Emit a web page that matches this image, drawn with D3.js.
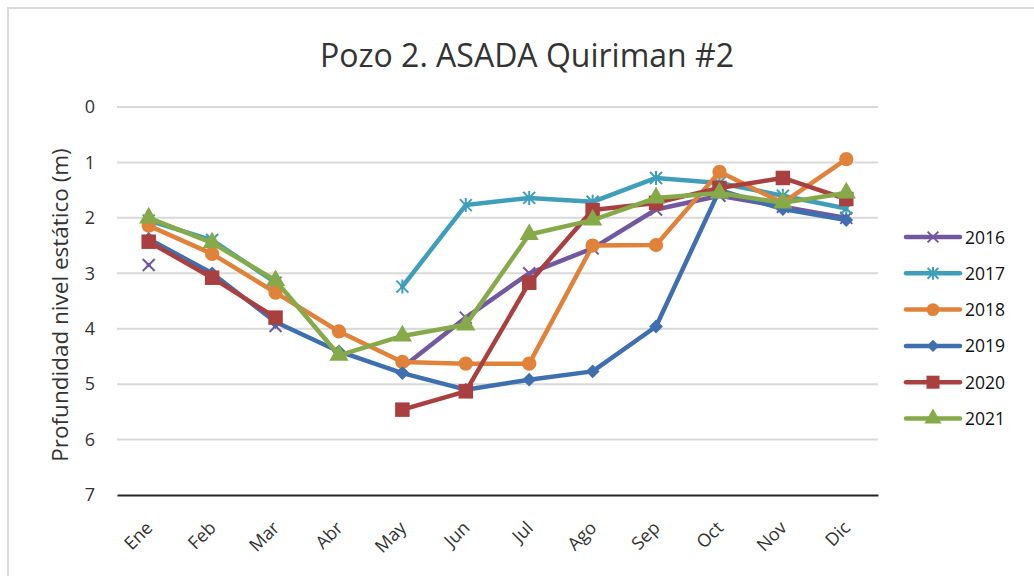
<!DOCTYPE html>
<html>
<head>
<meta charset="utf-8">
<script src="https://cdn.jsdelivr.net/npm/d3@7"></script>
<style>
  body { margin: 0; background: #fff; }
  svg { font-family: "Open Sans", "Noto Sans", sans-serif; }
</style>
</head>
<body>
<svg id="chart" width="1034" height="576"></svg>
<script>
const months = ["Ene", "Feb", "Mar", "Abr", "May", "Jun", "Jul", "Ago", "Sep", "Oct", "Nov", "Dic"];
const yTicks = [0, 1, 2, 3, 4, 5, 6, 7];

// profundidad (m) por mes, null = sin dato
const y2016 = [2.85, null, 3.95, null, 4.7, 3.8, 3.0, 2.55, 1.85, 1.6, 1.8, 2.0];
const y2017 = [2.05, 2.4, 3.17, null, 3.24, 1.77, 1.64, 1.71, 1.28, 1.37, 1.6, 1.83];
const y2018 = [2.14, 2.65, 3.35, 4.05, 4.6, 4.63, 4.63, 2.5, 2.49, 1.17, 1.73, 0.94];
const y2019 = [2.38, 3.0, 3.88, 4.41, 4.8, 5.1, 4.92, 4.77, 3.96, 1.5, 1.84, 2.04];
const y2020 = [2.43, 3.08, 3.8, null, 5.46, 5.13, 3.17, 1.86, 1.73, 1.46, 1.28, 1.66];
const y2021 = [2.0, 2.45, 3.13, 4.48, 4.13, 3.93, 2.3, 2.04, 1.64, 1.55, 1.73, 1.55];

const series = [
  { name: "2016", values: y2016, color: "#71589f", symbol: "x" },
  { name: "2017", values: y2017, color: "#3f9fba", symbol: "star" },
  { name: "2018", values: y2018, color: "#e0823a", symbol: "circle" },
  { name: "2019", values: y2019, color: "#3f6faf", symbol: "diamond" },
  { name: "2020", values: y2020, color: "#a9403f", symbol: "square" },
  { name: "2021", values: y2021, color: "#86a94a", symbol: "triangle" }
];

const svg = d3.select("#chart");

// chart border
svg.append("rect")
  .attr("x", 8).attr("y", 8)
  .attr("width", 1040).attr("height", 580)
  .attr("fill", "none")
  .attr("stroke", "#d9d9d9")
  .attr("stroke-width", 2);

const plot = { left: 117, right: 878, top: 107, bottom: 495 };

const x = d3.scaleBand()
  .domain(months)
  .range([plot.left, plot.right]);

const y = d3.scaleLinear()
  .domain([0, 7])
  .range([plot.top, plot.bottom]);

svg.append("text")
  .attr("x", 527).attr("y", 67)
  .attr("text-anchor", "middle")
  .attr("font-size", 32)
  .attr("fill", "#333")
  .text("Pozo 2. ASADA Quiriman #2");

// gridlines
svg.append("g")
  .selectAll("line")
  .data(yTicks.slice(0, -1))
  .join("line")
  .attr("x1", plot.left).attr("x2", plot.right)
  .attr("y1", d => y(d)).attr("y2", d => y(d))
  .attr("stroke", "#d9d9d9")
  .attr("stroke-width", 2);

const yAxis = svg.append("g")
  .attr("transform", `translate(${plot.left},0)`)
  .call(d3.axisLeft(y).tickValues(yTicks).tickFormat(d3.format("d")).tickSize(0).tickPadding(22));
yAxis.select(".domain").remove();
yAxis.selectAll("text")
  .attr("font-size", 18)
  .attr("fill", "#333")
  .attr("font-family", "Open Sans, sans-serif");

const xAxis = svg.append("g")
  .attr("transform", `translate(0,${plot.bottom})`)
  .call(d3.axisBottom(x).tickSize(0).tickPadding(0));
xAxis.select(".domain")
  .attr("stroke", "#262626")
  .attr("stroke-width", 2);
xAxis.selectAll("text")
  .attr("font-size", 18)
  .attr("fill", "#333")
  .attr("font-family", "Open Sans, sans-serif")
  .attr("text-anchor", "end")
  .attr("dy", 0)
  .attr("transform", "translate(5,34) rotate(-45)");

svg.append("text")
  .attr("transform", `translate(68,${(plot.top + plot.bottom) / 2 + 4}) rotate(-90)`)
  .attr("text-anchor", "middle")
  .attr("font-size", 22.5)
  .attr("fill", "#333")
  .text("Profundidad nivel estático (m)");

const line = d3.line()
  .defined(d => d != null)
  .x((d, i) => x(months[i]) + x.bandwidth() / 2)
  .y(d => y(d));

function drawSymbol(g, s, cx, cy, big) {
  const k = big ? 1 : 0.9;
  if (s.symbol === "x") {
    const r = 6 * k;
    g.append("path")
      .attr("d", `M${cx - r},${cy - r}L${cx + r},${cy + r}M${cx - r},${cy + r}L${cx + r},${cy - r}`)
      .attr("stroke", s.color).attr("stroke-width", 2).attr("fill", "none");
  } else if (s.symbol === "star") {
    const r = 6 * k;
    g.append("path")
      .attr("d", `M${cx - r},${cy - r}L${cx + r},${cy + r}M${cx - r},${cy + r}L${cx + r},${cy - r}M${cx},${cy - r - 1}L${cx},${cy + r + 1}`)
      .attr("stroke", s.color).attr("stroke-width", 2).attr("fill", "none");
  } else if (s.symbol === "diamond") {
    g.append("path")
      .attr("d", d3.symbol(d3.symbolSquare, 95 * k * k)())
      .attr("transform", `translate(${cx},${cy}) rotate(45)`)
      .attr("fill", s.color);
  } else {
    const types = { circle: d3.symbolCircle, square: d3.symbolSquare, triangle: d3.symbolTriangle };
    const sizes = { circle: 160, square: 210, triangle: 160 };
    g.append("path")
      .attr("d", d3.symbol(types[s.symbol], sizes[s.symbol] * k * k)())
      .attr("transform", `translate(${cx},${cy})`)
      .attr("fill", s.color);
  }
}

series.forEach(s => {
  const g = svg.append("g");
  g.append("path")
    .datum(s.values)
    .attr("d", line)
    .attr("fill", "none")
    .attr("stroke", s.color)
    .attr("stroke-width", 4.5)
    .attr("stroke-linejoin", "round")
    .attr("stroke-linecap", "round");
  s.values.forEach((v, i) => {
    if (v == null) return;
    drawSymbol(g, s, x(months[i]) + x.bandwidth() / 2, y(v), true);
  });
});

// legend
const legend = svg.append("g");
series.forEach((s, i) => {
  const ly = 237 + i * 36.3;
  const g = legend.append("g");
  g.append("line")
    .attr("x1", 906).attr("x2", 960)
    .attr("y1", ly).attr("y2", ly)
    .attr("stroke", s.color)
    .attr("stroke-width", 4.5)
    .attr("stroke-linecap", "round");
  drawSymbol(g, s, 933, ly, false);
  g.append("text")
    .attr("x", 965).attr("y", ly + 6.5)
    .attr("font-size", 17.5)
    .attr("fill", "#111")
    .text(s.name);
});
</script>
</body>
</html>
